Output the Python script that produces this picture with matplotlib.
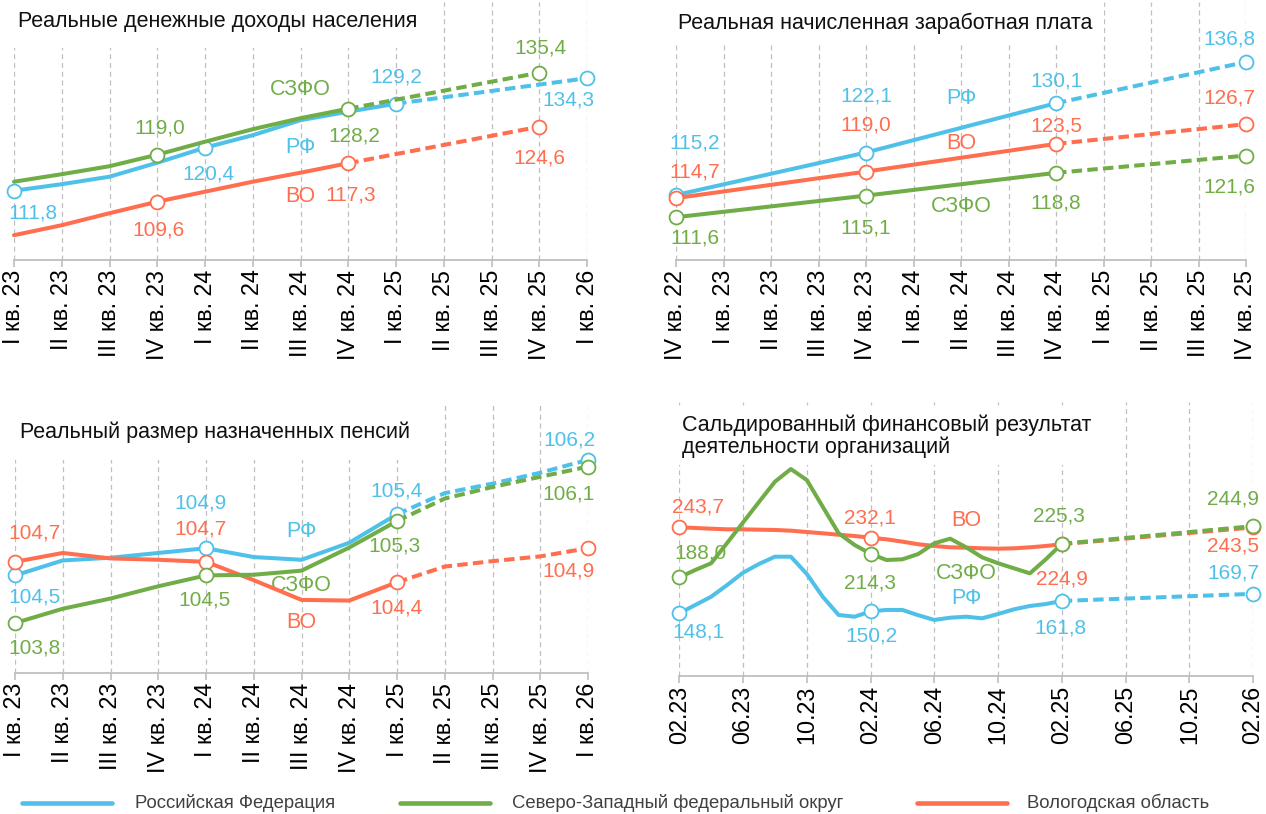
import matplotlib.pyplot as plt
from matplotlib.lines import Line2D

plt.rcParams['font.family'] = ['Liberation Sans', 'DejaVu Sans']

W, H = 1266, 814
BLUE = '#4FC1E9'
GREEN = '#70AD47'
RED = '#FF6E4F'
GRID = '#BFBFBF'

# ---------------- data ----------------
quarters_23_26 = ['I кв. 23', 'II кв. 23', 'III кв. 23', 'IV кв. 23',
                  'I кв. 24', 'II кв. 24', 'III кв. 24', 'IV кв. 24',
                  'I кв. 25', 'II кв. 25', 'III кв. 25', 'IV кв. 25', 'I кв. 26']
quarters_22_25 = ['IV кв. 22', 'I кв. 23', 'II кв. 23', 'III кв. 23',
                  'IV кв. 23', 'I кв. 24', 'II кв. 24', 'III кв. 24',
                  'IV кв. 24', 'I кв. 25', 'II кв. 25', 'III кв. 25', 'IV кв. 25']
month_ticks = ['02.23', '06.23', '10.23', '02.24', '06.24', '10.24',
               '02.25', '06.25', '10.25', '02.26']

# Реальные денежные доходы населения (I кв.23 ...)
inc_rf = [111.8, 113.1, 114.6, 117.4, 120.4, 122.9, 125.9, 127.6, 129.2]
inc_rf_fc = [129.2, 134.3]            # I кв.25 -> I кв.26
inc_szfo = [113.6, 115.1, 116.7, 119.0, 121.6, 124.1, 126.3, 128.2]
inc_szfo_fc = [128.2, 135.4]          # IV кв.24 -> IV кв.25
inc_vo = [102.9, 104.9, 107.3, 109.6, 111.6, 113.6, 115.4, 117.3]
inc_vo_fc = [117.3, 124.6]            # IV кв.24 -> IV кв.25

# Реальная начисленная заработная плата (IV кв.22, IV кв.23, IV кв.24, IV кв.25)
wage_rf = [115.2, 122.1, 130.1, 136.8]
wage_szfo = [111.6, 115.1, 118.8, 121.6]
wage_vo = [114.7, 119.0, 123.5, 126.7]

# Реальный размер назначенных пенсий (I кв.23 ... I кв.26)
pen_rf = [104.5, 104.72, 104.76, 104.83, 104.9, 104.77, 104.73, 104.98, 105.4,
          105.71, 105.85, 106.01, 106.2]
pen_szfo = [103.8, 104.01, 104.16, 104.34, 104.5, 104.51, 104.57, 104.91, 105.3,
            105.63, 105.8, 105.95, 106.1]
pen_vo = [104.7, 104.83, 104.75, 104.73, 104.7, 104.43, 104.14, 104.13, 104.4,
          104.63, 104.71, 104.78, 104.9]

# Сальдированный финансовый результат, помесячно 02.23 ... 02.25, прогноз 02.26
fin_rf = [148.1, 157.3, 166.5, 179.5, 193.2, 202.9, 211.0, 211.0, 191.8, 166.5,
          146.2, 144.3, 150.2, 151.8, 151.8, 145.9, 140.7, 143.2, 144.3, 142.5,
          147.3, 152.5, 156.2, 158.4, 161.8]
fin_rf_fc = [161.8, 169.7]
fin_szfo = [188.0, 196.2, 203.7, 226.2, 249.0, 271.8, 294.3, 308.4, 296.2, 266.5,
            237.0, 224.0, 214.3, 207.3, 208.1, 214.0, 225.9, 231.0, 221.4, 210.3,
            203.7, 198.1, 192.5, 208.1, 225.3]
fin_szfo_fc = [225.3, 244.9]
fin_vo = [243.7, 242.9, 242.1, 241.4, 241.4, 241.0, 240.7, 239.9, 238.4, 237.0,
          235.4, 234.0, 232.1, 230.3, 227.7, 224.8, 222.9, 221.4, 221.0, 220.3,
          219.9, 220.3, 221.4, 222.9, 224.9]
fin_vo_fc = [224.9, 243.5]

LAB = 15      # value labels
NAME = 15.5   # series names
TICK = 16.8

fig = plt.figure(figsize=(W / 100, H / 100), dpi=100)


def make_ax(x0, x1, top, bottom, n, ylim):
    ax = fig.add_axes([x0 / W, 1 - bottom / H, (x1 - x0) / W, (bottom - top) / H])
    ax.set_facecolor('none')
    ax.set_xlim(0, n)
    ax.set_ylim(*ylim)
    for s in ['top', 'left', 'right']:
        ax.spines[s].set_visible(False)
    ax.spines['bottom'].set_color(GRID)
    ax.spines['bottom'].set_linewidth(1.3)
    ax.set_yticks([])
    ax.grid(axis='x', color=GRID, linestyle=(0, (4, 3)), linewidth=0.9)
    ax.tick_params(axis='x', length=5, color=GRID, width=1.2, labelsize=TICK,
                   pad=2, labelrotation=90)
    return ax


def line(ax, xs, ys, color, z, dashed=False):
    ls = (0, (2.6, 1.3)) if dashed else '-'
    ax.plot(xs, ys, color=color, lw=2.9, ls=ls, zorder=z, clip_on=False,
            solid_capstyle='round', dash_capstyle='butt')


def marks(ax, xs, ys, color, z):
    ax.plot(xs, ys, 'o', ms=10, mfc='white', mec=color, mew=1.3, zorder=z + 0.5,
            clip_on=False)


def lab(ax, x, v, color, dx, dy):
    ax.annotate(f'{v:.1f}'.replace('.', ','), (x, v), xytext=(dx, dy),
                textcoords='offset pixels', ha='center', va='center',
                color=color, fontsize=LAB, zorder=10)


def name(ax, x, y, text, color):
    ax.text(x, y, text, color=color, fontsize=NAME, ha='center', va='center')


def title(x, y, text, pad):
    fig.text(x / W, 1 - y / H, text, fontsize=15.5, color='#111111', ha='left',
             va='center', linespacing=1.05, zorder=20,
             bbox=dict(boxstyle=f'square,pad={pad}', fc='white', ec='none'))


# ---------- panel 1 ----------
ax1 = make_ax(14, 587, 2, 260, len(quarters_23_26) - 1, (97.94, 149.54))
ax1.set_xticks(range(len(quarters_23_26)))
ax1.set_xticklabels(quarters_23_26)
i_iv24 = quarters_23_26.index('IV кв. 24')
i_iv25 = quarters_23_26.index('IV кв. 25')
i_i25 = quarters_23_26.index('I кв. 25')
i_i26 = quarters_23_26.index('I кв. 26')
line(ax1, range(len(inc_rf)), inc_rf, BLUE, 3)
line(ax1, [i_i25, i_i26], inc_rf_fc, BLUE, 3, True)
line(ax1, range(len(inc_vo)), inc_vo, RED, 4)
line(ax1, [i_iv24, i_iv25], inc_vo_fc, RED, 4, True)
line(ax1, range(len(inc_szfo)), inc_szfo, GREEN, 5)
line(ax1, [i_iv24, i_iv25], inc_szfo_fc, GREEN, 5, True)
marks(ax1, [0, 4, 8, 12], [inc_rf[0], inc_rf[4], inc_rf[8], inc_rf_fc[1]], BLUE, 3)
marks(ax1, [3, 7, 11], [inc_vo[3], inc_vo[7], inc_vo_fc[1]], RED, 4)
marks(ax1, [3, 7, 11], [inc_szfo[3], inc_szfo[7], inc_szfo_fc[1]], GREEN, 5)
lab(ax1, 0, inc_rf[0], BLUE, 19, -22)
lab(ax1, 4, inc_rf[4], BLUE, 3, -26)
lab(ax1, 8, inc_rf[8], BLUE, 0, 27)
lab(ax1, 12, inc_rf_fc[1], BLUE, -19, -22)
lab(ax1, 3, inc_szfo[3], GREEN, 3, 27)
lab(ax1, 7, inc_szfo[7], GREEN, 6, -27)
lab(ax1, 11, inc_szfo_fc[1], GREEN, 1, 25)
lab(ax1, 3, inc_vo[3], RED, 1, -28)
lab(ax1, 7, inc_vo[7], RED, 2, -32)
lab(ax1, 11, inc_vo_fc[1], RED, 0, -31)
name(ax1, 6, 132.1, 'СЗФО', GREEN)
name(ax1, 6, 120.5, 'РФ', BLUE)
name(ax1, 6, 110.7, 'ВО', RED)
title(18, 22, 'Реальные денежные доходы населения', 0.7)

# ---------- panel 2 ----------
ax2 = make_ax(676, 1246, 2, 260, len(quarters_22_25) - 1, (104.65, 146.53))
ax2.set_xticks(range(len(quarters_22_25)))
ax2.set_xticklabels(quarters_22_25)
wx = [quarters_22_25.index(q) for q in ['IV кв. 22', 'IV кв. 23', 'IV кв. 24', 'IV кв. 25']]
for vals, color, z in [(wage_rf, BLUE, 3), (wage_vo, RED, 4), (wage_szfo, GREEN, 5)]:
    line(ax2, wx[:3], vals[:3], color, z)
    line(ax2, wx[2:], vals[2:], color, z, True)
    marks(ax2, wx, vals, color, z)
for k, (dx, dy) in enumerate([(19, 52), (0, 56), (0, 22), (-17, 23)]):
    lab(ax2, wx[k], wage_rf[k], BLUE, dx, dy)
for k, (dx, dy) in enumerate([(19, 26), (0, 47), (0, 18), (-17, 26)]):
    lab(ax2, wx[k], wage_vo[k], RED, dx, dy)
for k, (dx, dy) in enumerate([(19, -21), (0, -32), (0, -30), (-17, -31)]):
    lab(ax2, wx[k], wage_szfo[k], GREEN, dx, dy)
name(ax2, 6, 130.8, 'РФ', BLUE)
name(ax2, 6, 123.5, 'ВО', RED)
name(ax2, 6, 113.3, 'СЗФО', GREEN)
title(678, 23, 'Реальная начисленная заработная плата', 0.55)

# ---------- panel 3 ----------
ax3 = make_ax(15, 588, 402, 673, len(quarters_23_26) - 1, (103.065, 107.05))
ax3.set_xticks(range(len(quarters_23_26)))
ax3.set_xticklabels(quarters_23_26)
px = list(range(len(quarters_23_26)))
for vals, color, z in [(pen_rf, BLUE, 3), (pen_vo, RED, 4), (pen_szfo, GREEN, 5)]:
    line(ax3, px[:9], vals[:9], color, z)
    line(ax3, px[8:], vals[8:], color, z, True)
    marks(ax3, px[::4], vals[::4], color, z)
for k, (dx, dy) in zip([0, 4, 8, 12], [(20, -22), (-6, 45), (0, 23), (-19, 20)]):
    lab(ax3, k, pen_rf[k], BLUE, dx, dy)
for k, (dx, dy) in zip([0, 4, 8, 12], [(20, -25), (-1, -25), (-2, -25), (-19, -27)]):
    lab(ax3, k, pen_szfo[k], GREEN, dx, dy)
for k, (dx, dy) in zip([0, 4, 8, 12], [(19, 29), (-6, 33), (0, -26), (-19, -23)]):
    lab(ax3, k, pen_vo[k], RED, dx, dy)
name(ax3, 6, 105.15, 'РФ', BLUE)
name(ax3, 6, 104.35, 'СЗФО', GREEN)
name(ax3, 6, 103.81, 'ВО', RED)
title(20, 432, 'Реальный размер назначенных пенсий', 0.8)

# ---------- panel 4 ----------
n_months = 36
ax4 = make_ax(679.3, 1253, 402, 676, n_months, (78.4, 382.9))
ax4.set_xticks(range(0, n_months + 1, 4))
ax4.set_xticklabels(month_ticks)
mx = list(range(len(fin_rf)))
last = mx[-1]
for vals, fc, color, z in [(fin_rf, fin_rf_fc, BLUE, 3), (fin_vo, fin_vo_fc, RED, 4),
                           (fin_szfo, fin_szfo_fc, GREEN, 5)]:
    line(ax4, mx, vals, color, z)
    line(ax4, [last, n_months], fc, color, z, True)
    marks(ax4, [0, 12, 24, n_months], [vals[0], vals[12], vals[24], fc[1]], color, z)
for k, v, (dx, dy) in zip([0, 12, 24, 36], [fin_rf[0], fin_rf[12], fin_rf[24], fin_rf_fc[1]],
                          [(19, -19), (1, -25), (-1, -27), (-20, 21)]):
    lab(ax4, k, v, BLUE, dx, dy)
for k, v, (dx, dy) in zip([0, 12, 24, 36], [fin_szfo[0], fin_szfo[12], fin_szfo[24], fin_szfo_fc[1]],
                          [(21, 24), (-1, -29), (-3, 28), (-20, 27)]):
    lab(ax4, k, v, GREEN, dx, dy)
for k, v, (dx, dy) in zip([0, 12, 24, 36], [fin_vo[0], fin_vo[12], fin_vo[24], fin_vo_fc[1]],
                          [(19, 20), (-1, 20), (0, -35), (-20, -19)]):
    lab(ax4, k, v, RED, dx, dy)
name(ax4, 18, 250.7, 'ВО', RED)
name(ax4, 18, 191.8, 'СЗФО', GREEN)
name(ax4, 18, 164.0, 'РФ', BLUE)
title(682, 436, 'Сальдированный финансовый результат\nдеятельности организаций', 0.35)

# ---------- legend ----------
ly = 1 - 803 / H
for (a, b), tx, label, color in [((22, 112), 135, 'Российская Федерация', BLUE),
                                 ((400, 490), 512, 'Северо-Западный федеральный округ', GREEN),
                                 ((917, 1007), 1027, 'Вологодская область', RED)]:
    fig.add_artist(Line2D([a / W, b / W], [ly, ly], transform=fig.transFigure,
                          color=color, lw=3.3, solid_capstyle='round'))
    fig.text(tx / W, ly, label, fontsize=13.3, color='#404040', ha='left', va='center')

fig.savefig('out.png', dpi=100)
